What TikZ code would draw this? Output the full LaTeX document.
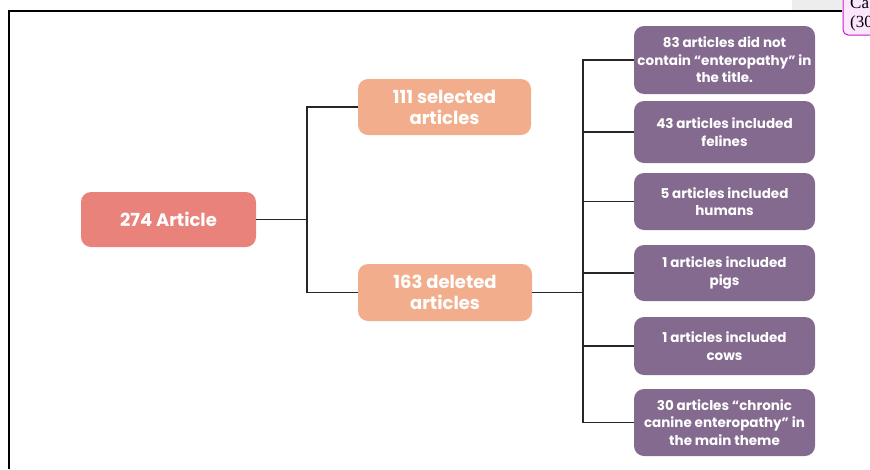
\documentclass[tikz,border=0pt]{standalone}
\usepackage{fontspec}
\setmainfont{Poppins}
\newfontfamily\serifcut{Liberation Serif}
\usepackage{color}

\definecolor{rootred}{HTML}{E8827A}
\definecolor{pickorange}{HTML}{F2AE8C}
\definecolor{dropviolet}{HTML}{846A8F}
\definecolor{notemagenta}{HTML}{C020C0}
\definecolor{notefill}{HTML}{FBE6FB}

\tikzset{
  tile/.style={rounded corners=10pt,text=white,align=center,inner sep=0pt,font=\bfseries},
  bigtile/.style={tile,font=\bfseries\fontsize{18}{21}\selectfont},
  smalltile/.style={tile,fill=dropviolet,minimum width=181pt,
    font=\bfseries\fontsize{13.5}{17.5}\selectfont},
  wire/.style={line width=1.2pt,color=black!85},
}

\begin{document}
\begin{tikzpicture}[x=1pt,y=-1pt]
\useasboundingbox (0,0) rectangle (870,469);

% frame of the page
\fill[black!7] (792,0) rectangle (842,11);
\draw[line width=1.5pt] (9,469) -- (9,11) -- (842,11);
\draw[notemagenta,fill=notefill,line width=1pt,rounded corners=5pt] (880,-5) -- (843,-5) -- (843,35) -- (880,35);
\node[right,font=\serifcut\fontsize{17}{19}\selectfont,align=left,inner sep=0pt] (cut) at (850,14) {Ca\\(30};

\node[bigtile,fill=rootred,minimum width=175pt,minimum height=55pt] (root) at (168.5,219.5) {274 Article};
\node[bigtile,fill=pickorange,minimum width=173pt,minimum height=56pt] (sel) at (444.5,107) {111 selected\\articles};
\node[bigtile,fill=pickorange,minimum width=174pt,minimum height=57pt] (del) at (445,292.5) {163 deleted\\articles};

\node[smalltile,minimum height=68pt] (p1) at (724.5,60) {83 articles did not\\contain ``enteropathy'' in\\the title.};
\node[smalltile,minimum height=62pt] (p2) at (724.5,132) {43 articles included\\felines};
\node[smalltile,minimum height=57pt] (p3) at (724.5,201.5) {5 articles included\\humans};
\node[smalltile,minimum height=56pt] (p4) at (724.5,273) {1 articles included\\pigs};
\node[smalltile,minimum height=58pt] (p5) at (724.5,346) {1 articles included\\cows};
\node[smalltile,minimum height=67pt] (p6) at (724.5,422.5) {30 articles ``chronic\\canine enteropathy'' in\\the main theme};

\coordinate (forkA) at (307,219.5);
\coordinate (forkB) at (583,292.5);
\draw[wire] (root.east) -- (forkA);
\draw[wire] (sel.west) -| (forkA) |- (del.west);
\draw[wire] (del.east) -- (forkB);
\foreach \i in {1,...,6}
  \draw[wire] (forkB) |- (p\i.west);
\end{tikzpicture}
\end{document}
